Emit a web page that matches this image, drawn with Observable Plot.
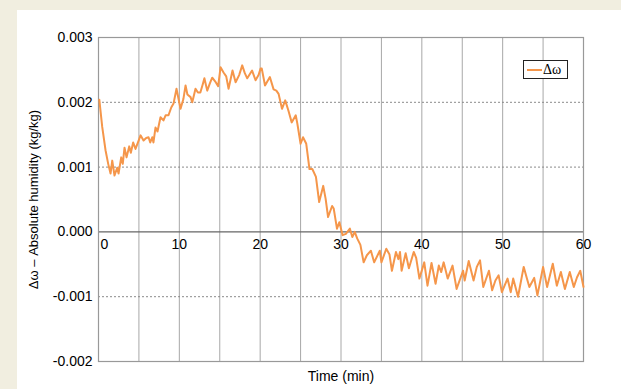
<!DOCTYPE html>
<html>
<head>
<meta charset="utf-8">
<script src="https://cdn.jsdelivr.net/npm/d3@7"></script>
<script src="https://cdn.jsdelivr.net/npm/@observablehq/plot@0.6"></script>
<style>
  html, body { margin: 0; padding: 0; }
  body { width: 621px; height: 389px; background: #f1eee0; position: relative; overflow: hidden; font-family: "Liberation Sans", Arial, sans-serif; }
  #chart { position: absolute; left: 17px; top: 10px; width: 604px; height: 379px; background: #fff; }
  #chart svg { display: block; background: #fff; }
  #legend { position: absolute; left: 523px; top: 60px; width: 43px; height: 17px; border: 1.5px solid #222; background: #fff; }
  #legend .ln { position: absolute; left: 3px; top: 8px; width: 15px; height: 2px; background: #f5964a; }
  #legend .tx { position: absolute; left: 19px; top: 0px; font-family: "Liberation Serif", "Times New Roman", serif; font-size: 14px; line-height: 17px; color: #000; }
</style>
</head>
<body>
<div id="chart"></div>
<div id="legend"><span class="ln"></span><span class="tx">Δω</span></div>
<script>
const time = [0.1,0.46,0.87,1.2,1.49,1.7,1.98,2.31,2.48,2.81,3.0,3.22,3.47,3.8,4.0,4.29,4.58,5.0,5.2,5.57,5.9,6.19,6.4,6.65,6.8,7.05,7.3,7.67,8.04,8.3,8.66,9.0,9.28,9.65,10.15,10.5,10.77,11.0,11.39,11.6,12.0,12.3,12.6,12.9,13.1,13.45,13.8,14.07,14.5,14.8,15.1,15.47,15.8,16.09,16.58,16.96,17.4,17.78,18.1,18.4,19.0,19.43,19.8,20.05,20.2,20.6,21.2,21.66,22.0,22.28,22.7,23.1,23.5,23.9,24.4,24.6,25.0,25.3,25.7,26.1,26.45,26.9,27.3,27.8,28.1,28.4,28.9,29.1,29.5,29.8,30.2,30.6,31.1,31.4,31.7,32.0,32.4,32.8,33.2,33.7,34.1,34.8,35.0,35.6,36.0,36.3,36.8,37.1,37.3,37.5,38.0,38.4,39.0,39.3,39.7,40.3,40.7,41.2,41.7,42.1,42.4,42.7,43.2,43.8,44.3,45.1,45.3,45.8,46.1,46.4,46.8,47.2,47.6,48.3,48.7,49.1,49.5,49.9,50.6,51.0,51.3,51.9,52.6,53.0,53.3,53.9,54.3,55.0,55.5,56.2,56.7,57.2,57.7,58.3,58.8,59.2,59.6,60.0];
const omega = [0.00204,0.00162,0.00126,0.00105,0.00090,0.00110,0.00087,0.00099,0.00090,0.00115,0.00105,0.00130,0.00115,0.00132,0.00122,0.00138,0.00128,0.00142,0.00149,0.00141,0.00145,0.00146,0.00138,0.00146,0.00138,0.00161,0.00155,0.00177,0.00172,0.00180,0.00180,0.00192,0.00198,0.00221,0.00190,0.00205,0.00226,0.00212,0.00208,0.00200,0.00221,0.00215,0.00215,0.00228,0.00237,0.00218,0.00230,0.00238,0.00231,0.00225,0.00254,0.00246,0.00240,0.00221,0.00249,0.00231,0.00242,0.00257,0.00245,0.00237,0.00249,0.00234,0.00242,0.00252,0.00252,0.00226,0.00239,0.00220,0.00218,0.00213,0.00190,0.00203,0.00187,0.00169,0.00180,0.00167,0.00136,0.00146,0.00136,0.00097,0.00097,0.00085,0.00046,0.00071,0.00051,0.00023,0.00040,0.00036,0.00005,0.00015,-0.00005,-0.00003,0.00005,-0.00008,0.00000,-0.00010,-0.00020,-0.00047,-0.00036,-0.00029,-0.00047,-0.00029,-0.00047,-0.00026,-0.00035,-0.00060,-0.00031,-0.00042,-0.00031,-0.00060,-0.00033,-0.00056,-0.00031,-0.00040,-0.00072,-0.00047,-0.00083,-0.00048,-0.00080,-0.00052,-0.00062,-0.00047,-0.00072,-0.00052,-0.00088,-0.00060,-0.00075,-0.00045,-0.00060,-0.00075,-0.00054,-0.00044,-0.00085,-0.00060,-0.00090,-0.00075,-0.00067,-0.00093,-0.00072,-0.00093,-0.00072,-0.00100,-0.00054,-0.00072,-0.00085,-0.00071,-0.00098,-0.00054,-0.00085,-0.00049,-0.00083,-0.00062,-0.00088,-0.00062,-0.00085,-0.00070,-0.00060,-0.00085];
const xTicks = [10, 20, 30, 40, 50, 60];
const xTickZero = [0];
const xGrid = [5, 10, 15, 20, 25, 30, 35, 40, 45, 50, 55];
const yTicks = [-0.002, -0.001, 0, 0.001, 0.002, 0.003];
const yGridDotted = [-0.001, 0.001, 0.002];

const data = time.map((t, i) => ({t, v: omega[i]}));

const chart = Plot.plot({
  width: 604,
  height: 379,
  marginLeft: 81,
  marginTop: 27,
  marginRight: 38,
  marginBottom: 28,
  style: {fontFamily: "'Liberation Sans', Arial, sans-serif", fontSize: "14px", color: "#000", background: "#fff"},
  x: {domain: [0, 60], axis: null},
  y: {domain: [-0.002, 0.003], axis: null},
  marks: [
    Plot.ruleX(xGrid, {stroke: "#a8a8a8", strokeWidth: 1}),
    Plot.ruleY(yGridDotted, {stroke: "#8a8a8a", strokeWidth: 1, strokeDasharray: "2,2"}),
    Plot.ruleY([0], {stroke: "#666", strokeWidth: 1.2}),
    Plot.frame({stroke: "#999", strokeWidth: 1.2}),
    Plot.axisY(yTicks, {tickSize: 0, tickPadding: 6, tickFormat: d => d.toFixed(3), fontSize: 14, label: null}),
    Plot.text(xTicks, {x: d => d, y: 0, dy: 13, text: d => String(d), fontSize: 14, fill: "#000"}),
    Plot.text(xTickZero, {x: d => d, y: 0, dy: 13, dx: 2, text: d => String(d), textAnchor: "start", fontSize: 14, fill: "#000"}),
    Plot.line(data, {x: "t", y: "v", stroke: "#f5964a", strokeWidth: 2, curve: "linear"}),
    Plot.text(["Δω – Absolute humidity (kg/kg)"], {frameAnchor: "left", textAnchor: "middle", dx: -65, rotate: -90, text: d => d, fontSize: 13, fill: "#000"}),
    Plot.text(["Time (min)"], {frameAnchor: "bottom", dy: 19, text: d => d, fontSize: 14, fill: "#000"})
  ]
});
document.getElementById("chart").appendChild(chart);
</script>
</body>
</html>
